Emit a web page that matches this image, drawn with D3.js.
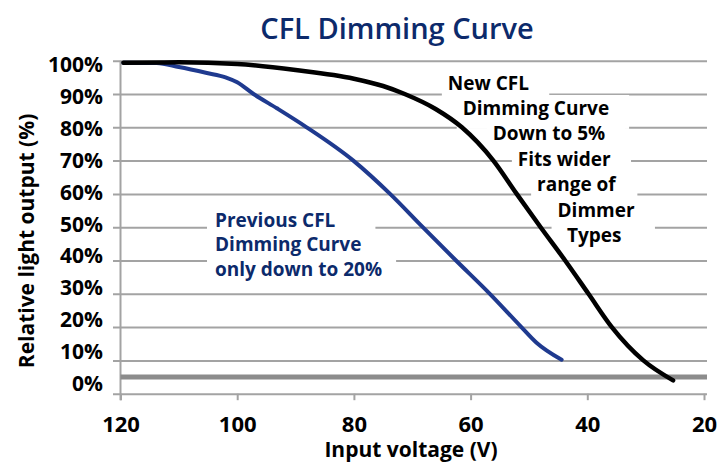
<!DOCTYPE html>
<html>
<head>
<meta charset="utf-8">
<script src="https://cdn.jsdelivr.net/npm/d3@7"></script>
<style>
  html, body { margin: 0; padding: 0; background: #fff; }
  svg { display: block; font-family: "Open Sans", "Noto Sans", sans-serif; }
</style>
</head>
<body>
<div id="chart"></div>
<script>
// ---------- data ----------
const xTicks = [120, 100, 80, 60, 40, 20];
const yTicks = [0, 10, 20, 30, 40, 50, 60, 70, 80, 90, 100];
const referenceLevel = 5;

const newVolts = [119.5, 110, 100, 90, 80, 75, 71.3, 66, 61.5, 56.1, 52.1, 48, 43.8, 39.8, 35.8, 30.4, 25.3];
const newPct   = [99.4, 99.5, 99.0, 97.2, 94.6, 92.4, 90, 85.5, 80, 70, 60, 50, 40, 30, 20, 10, 4];

const prevVolts = [119.5, 113.8, 110, 105.2, 102, 100, 97.2, 93.2, 88.1, 80.1, 73.8, 68.2, 62.5, 56.7, 51.3, 48.7, 44.4];
const prevPct   = [99.4, 99.3, 98.1, 96.3, 95, 93.5, 90, 85.7, 80, 70, 60, 50, 40, 30, 20, 15.3, 10.2];

const titleText = "CFL Dimming Curve";
const xTitle = "Input voltage (V)";
const yTitle = "Relative light output (%)";

const newNote = ["New CFL", "Dimming Curve", "Down to 5%", "Fits wider", "range of", "Dimmer", "Types"];
const prevNote = ["Previous CFL", "Dimming Curve", "only down to 20%"];

// ---------- layout ----------
const W = 726, H = 466;
const gridLeft = 113, gridRight = 707;
const navy = "#0c2a6b";
const blueLine = "#1f3a8f";
const gridColor = "#a3a3a3";

// annotation layout (left edge in volts per line, first baseline in %, line step px)
const newNoteLeft = [63.9, 61.35, 56.2, 51.9, 48.6, 45.1, 43.5];
const newNoteTop = 91.35, newNoteStep = 25.45;
const prevNoteLeft = 103.8, prevNoteTop = 50.2, prevNoteStep = 24.7;

const svg = d3.select("#chart").append("svg").attr("width", W).attr("height", H);

const x = d3.scaleLinear().domain([120, 20]).range([120.5, 704]);
const y = d3.scaleLinear().domain([0, 100]).range([393.7, 60.7]);
const yLabel = d3.scaleLinear().domain([0, 100]).range([383, 64]);

// y gridlines + labels
const gy = svg.append("g").attr("transform", `translate(${gridLeft},0)`)
  .call(d3.axisLeft(y).tickValues(yTicks).tickSize(-(gridRight - gridLeft)).tickPadding(10).tickFormat(d => d + "%"));
gy.select(".domain").remove();
gy.selectAll(".tick line").attr("stroke", gridColor).attr("stroke-width", 2);
gy.selectAll(".tick text")
  .attr("y", d => yLabel(d) - y(d)).attr("dy", "0.36em")
  .attr("font-size", 21).attr("font-weight", 700).attr("fill", "#000")
  .attr("font-family", "'Open Sans', sans-serif");

// vertical axis line
svg.append("line").attr("x1", x(120)).attr("x2", x(120)).attr("y1", y(100)).attr("y2", y(0) + 6.5)
  .attr("stroke", gridColor).attr("stroke-width", 2);

// x axis
const gx = svg.append("g").attr("transform", `translate(0,${y(0)})`)
  .call(d3.axisBottom(x).tickValues(xTicks).tickSize(6.5).tickFormat(d3.format("d")));
gx.select(".domain").remove();
gx.selectAll(".tick line").attr("stroke", gridColor).attr("stroke-width", 2);
gx.selectAll(".tick text").attr("y", 38).attr("dy", 0)
  .attr("font-size", 22).attr("font-weight", 700).attr("fill", "#000")
  .attr("font-family", "'Open Sans', sans-serif");

// thick reference line at 5%
svg.append("line").attr("x1", x(120)).attr("x2", gridRight).attr("y1", y(referenceLevel)).attr("y2", y(referenceLevel))
  .attr("stroke", "#8c8c8c").attr("stroke-width", 5);

// layers: white boxes, curves, note text
const rectLayer = svg.append("g");
const curveLayer = svg.append("g");
const textLayer = svg.append("g");

function addNote(lines, lefts, topPct, step, color, pad) {
  lines.forEach((t, i) => {
    const bx = x(Array.isArray(lefts) ? lefts[i] : lefts);
    const by = y(topPct) + i * step;
    const txt = textLayer.append("text").attr("x", bx).attr("y", by).text(t)
      .attr("font-size", 19).attr("font-weight", 700).attr("fill", color);
    const bb = txt.node().getBBox();
    rectLayer.append("rect")
      .attr("x", bb.x - pad.l).attr("width", bb.width + pad.l + pad.r)
      .attr("y", by - pad.t).attr("height", pad.t + pad.b)
      .attr("fill", "#fff");
  });
}
addNote(newNote, newNoteLeft, newNoteTop, newNoteStep, "#000", { l: 6, r: 20, t: 20, b: 14 });
addNote(prevNote, prevNoteLeft, prevNoteTop, prevNoteStep, navy, { l: 8, r: 14, t: 26, b: 10 });

// curves
const line = d3.line().x(d => x(d[0])).y(d => y(d[1])).curve(d3.curveMonotoneX);
curveLayer.append("path").datum(prevVolts.map((v, i) => [v, prevPct[i]]))
  .attr("d", line).attr("fill", "none").attr("stroke", blueLine).attr("stroke-width", 4)
  .attr("stroke-linecap", "round").attr("stroke-linejoin", "round");
curveLayer.append("path").datum(newVolts.map((v, i) => [v, newPct[i]]))
  .attr("d", line).attr("fill", "none").attr("stroke", "#000").attr("stroke-width", 4.5)
  .attr("stroke-linecap", "round").attr("stroke-linejoin", "round");

// title
svg.append("text").attr("x", 397).attr("y", 39).attr("text-anchor", "middle")
  .attr("font-size", 29).attr("font-weight", 600).attr("fill", navy).text(titleText);

// axis titles
svg.append("text").attr("x", 411).attr("y", 457).attr("text-anchor", "middle")
  .attr("font-size", 21).attr("font-weight", 700).attr("fill", "#000").text(xTitle);
svg.append("text").attr("transform", "translate(33.5,241) rotate(-90)").attr("text-anchor", "middle")
  .attr("font-size", 21).attr("font-weight", 700).attr("fill", "#000").text(yTitle);
</script>
</body>
</html>
